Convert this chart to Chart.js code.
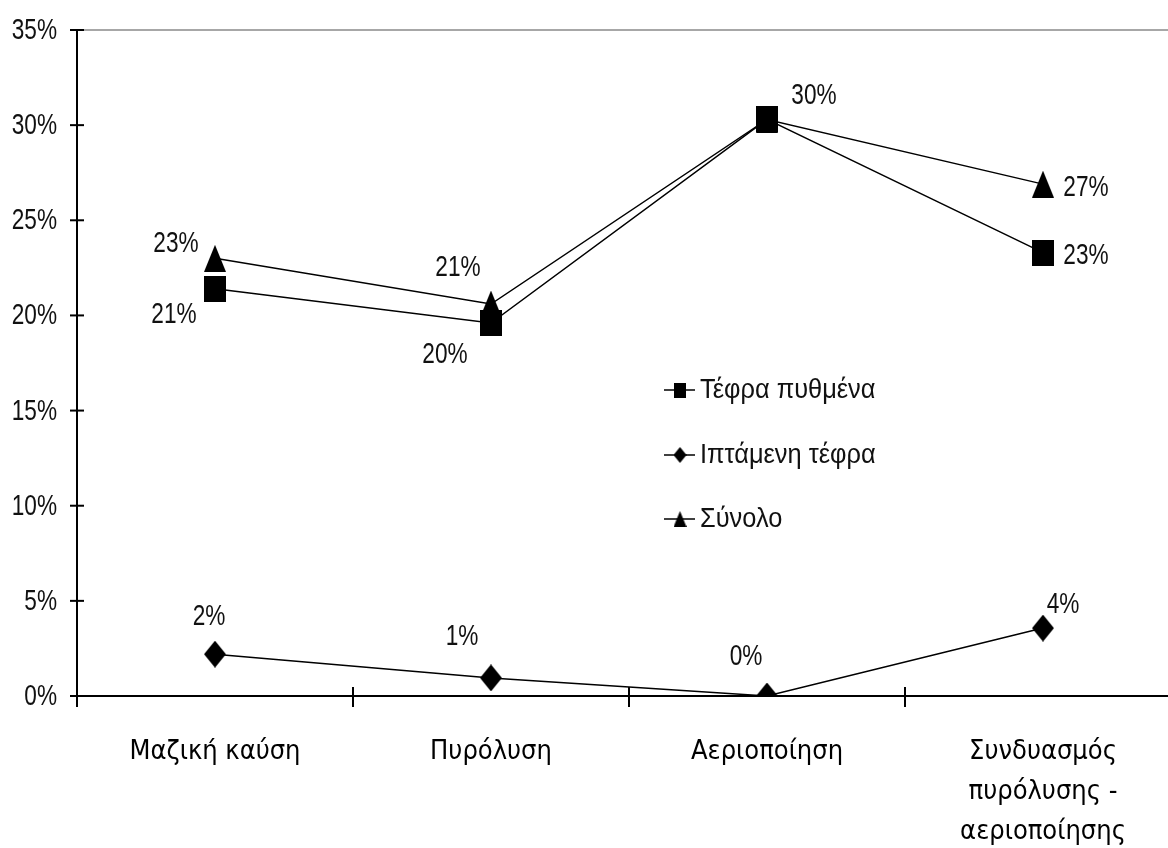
<!DOCTYPE html>
<html>
<head>
<meta charset="utf-8">
<script src="https://cdn.jsdelivr.net/npm/chart.js@4"></script>
<style>
  html, body { margin: 0; padding: 0; background: #fff; overflow: hidden; }
  #wrap { width: 1200px; height: 848px; }
</style>
</head>
<body>
<div id="wrap"><canvas id="ash"></canvas></div>
<script>
// Κατηγορίες και τιμές (%)
const categories = ['Μαζική καύση', 'Πυρόλυση', 'Αεριοποίηση', ['Συνδυασμός', 'πυρόλυσης -', 'αεριοποίησης']];
const seriesNames = ['Τέφρα πυθμένα', 'Ιπτάμενη τέφρα', 'Σύνολο'];
const bottomAsh = [21.4, 19.6, 30.3, 23.3];
const flyAsh = [2.2, 0.95, 0.0, 3.57];
const totalAsh = [23.0, 20.6, 30.3, 26.9];
const yTicks = [0, 5, 10, 15, 20, 25, 30, 35];

const sans = '"Liberation Sans", Arial, sans-serif';
const catFont = '"DejaVu Sans Condensed", "DejaVu Sans", sans-serif';
const squeeze = 0.78; // τα νούμερα της εικόνας είναι στενά

function narrowText(ctx, text, x, y, align, sx) {
    ctx.save();
    ctx.translate(x, y);
    ctx.scale(sx || squeeze, 1);
    ctx.textAlign = align;
    ctx.fillText(text, 0, 0);
    ctx.restore();
}

// μικρά canvas για τους δείκτες
function marker(kind, w, h) {
    const c = document.createElement('canvas');
    c.width = w; c.height = h;
    const g = c.getContext('2d');
    g.fillStyle = '#000';
    g.beginPath();
    if (kind === 'square') {
        g.rect(0, 0, w, h);
    } else if (kind === 'diamond') {
        g.moveTo(w / 2, 0); g.lineTo(w, h / 2); g.lineTo(w / 2, h); g.lineTo(0, h / 2);
    } else {
        g.moveTo(w / 2, 0); g.lineTo(w, h); g.lineTo(0, h);
    }
    g.closePath();
    g.fill();
    return c;
}
const bigMarkers = [marker('square', 22, 26), marker('diamond', 22, 27), marker('triangle', 22, 27)];
const smallMarkers = [marker('square', 12, 15), marker('diamond', 13, 16), marker('triangle', 13, 16)];

// θέσεις των ετικετών τιμών (dx, dy από το σημείο), null = κρυφή
const labelOffsets = [
    [[-41, 26], [-46, 32], [47, -23], [43, 3]],
    [[-6, -37], [-29, -41], [-21, -39], [20, -23]],
    [[-39, -14], [-33, -36], null, [43, 4]]
];

const axesPlugin = {
    id: 'axesPlugin',
    afterDraw(chart) {
        const ctx = chart.ctx;
        const x = chart.scales.x, y = chart.scales.y;
        const top = y.getPixelForValue(35), bottom = y.getPixelForValue(0);
        ctx.save();
        // ανώτερη γραμμή
        ctx.strokeStyle = '#8a8a8a';
        ctx.lineWidth = 1.5;
        ctx.beginPath(); ctx.moveTo(x.left, top); ctx.lineTo(chart.width, top); ctx.stroke();
        ctx.strokeStyle = '#000';
        ctx.lineWidth = 2;
        ctx.beginPath(); ctx.moveTo(x.left, top); ctx.lineTo(x.left, bottom + 11); ctx.stroke();
        ctx.beginPath(); ctx.moveTo(x.left - 7, bottom); ctx.lineTo(chart.width, bottom); ctx.stroke();
        ctx.fillStyle = '#111';
        ctx.font = '29px ' + sans;
        ctx.textBaseline = 'middle';
        yTicks.forEach(v => {
            const py = y.getPixelForValue(v);
            ctx.beginPath(); ctx.moveTo(x.left - 7, py); ctx.lineTo(x.left + 7, py); ctx.stroke();
            narrowText(ctx, v + '%', x.left - 20, py + 1, 'right');
        });
        const step = x.width / categories.length;
        for (let k = 1; k < categories.length; k++) {
            const px = x.left + k * step;
            ctx.beginPath(); ctx.moveTo(px, bottom - 9); ctx.lineTo(px, bottom + 11); ctx.stroke();
        }
        ctx.restore();
    },
    afterDatasetsDraw(chart) {
        const ctx = chart.ctx;
        ctx.save();
        ctx.fillStyle = '#111';
        ctx.font = '29px ' + sans;
        ctx.textBaseline = 'middle';
        chart.data.datasets.forEach((ds, i) => {
            const meta = chart.getDatasetMeta(i);
            meta.data.forEach((pt, j) => {
                const off = labelOffsets[i][j];
                if (!off) return;
                narrowText(ctx, Math.round(ds.data[j]) + '%', pt.x + off[0], pt.y + off[1], 'center');
            });
        });
        // υπόμνημα
        const legY = [390, 455, 519];
        ctx.font = '27px ' + sans;
        seriesNames.forEach((name, i) => {
            ctx.strokeStyle = '#000';
            ctx.lineWidth = 1.5;
            ctx.beginPath(); ctx.moveTo(664, legY[i]); ctx.lineTo(695, legY[i]); ctx.stroke();
            const m = smallMarkers[i];
            ctx.drawImage(m, 680 - m.width / 2, legY[i] - m.height / 2);
            narrowText(ctx, name, 700, legY[i] + 1, 'left', 0.94);
        });
        ctx.restore();
    }
};

const ctx = document.getElementById('ash').getContext('2d');
new Chart(ctx, {
    type: 'line',
    data: {
        labels: categories,
        datasets: [bottomAsh, flyAsh, totalAsh].map((vals, i) => ({
            label: seriesNames[i],
            data: vals,
            borderColor: '#000',
            borderWidth: 1.5,
            pointStyle: bigMarkers[i],
            tension: 0,
            fill: false
        }))
    },
    options: {
        responsive: true,
        maintainAspectRatio: false,
        animation: false,
        layout: { padding: { top: 30, right: 19, left: 0, bottom: 0 } },
        plugins: { legend: { display: false }, tooltip: { enabled: false } },
        scales: {
            x: {
                offset: true,
                grid: { display: false, drawTicks: false },
                border: { display: false },
                ticks: {
                    padding: 36,
                    color: '#000',
                    maxRotation: 0,
                    autoSkip: false,
                    font: { family: catFont, size: 27, lineHeight: 1.48 }
                },
                afterFit(s) { s.height = 152; }
            },
            y: {
                min: 0,
                max: 35,
                grid: { display: false, drawTicks: false },
                border: { display: false },
                ticks: { display: false, stepSize: 5 },
                afterFit(s) { s.width = 77; }
            }
        }
    },
    plugins: [axesPlugin]
});
</script>
</body>
</html>
